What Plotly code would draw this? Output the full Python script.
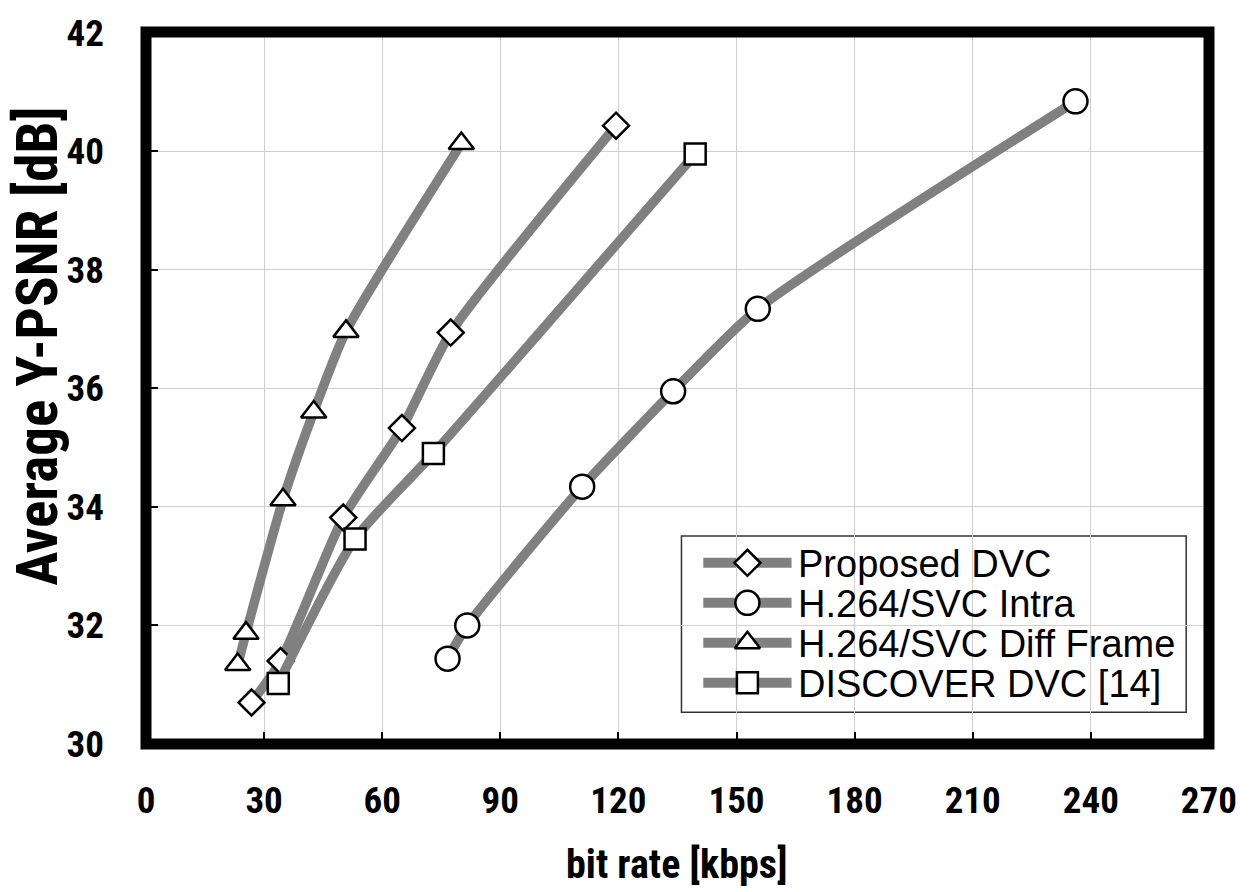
import plotly.graph_objects as go

# ---- data ----
proposed_x = [26.8, 34.2, 50.1, 65.0, 77.4, 119.4]
proposed_y = [30.70, 31.40, 33.82, 35.33, 36.94, 40.43]

intra_x = [76.6, 81.6, 110.8, 133.9, 155.4, 236.1]
intra_y = [31.44, 32.00, 34.34, 35.95, 37.34, 40.84]

diff_x = [23.3, 25.4, 34.8, 42.6, 50.8, 80.1]
diff_y = [31.34, 31.87, 34.12, 35.60, 36.96, 40.13]

discover_x = [33.6, 53.1, 73.0, 139.5]
discover_y = [31.02, 33.46, 34.90, 39.95]

series_names = ["Proposed DVC", "H.264/SVC Intra", "H.264/SVC Diff Frame", "DISCOVER DVC [14]"]
series_symbols = ["diamond", "circle", "triangle-up", "square"]
series_sizes = [20, 24, 22, 21]

x_ticks = [0, 30, 60, 90, 120, 150, 180, 210, 240, 270]
y_ticks = [30, 32, 34, 36, 38, 40, 42]

# ---- style / layout ----
W, H = 1249, 892
L, R, T, B = 146, 1218, 25, 744          # plot area in pixels
LINE_GRAY = "#808080"
COND = "Roboto Condensed, Open Sans Condensed, Liberation Sans Narrow, Arial Narrow, sans-serif"
REG = "Liberation Sans, Arial, sans-serif"

def px2paper_x(px):
    return (px - L) / (R - L)

def px2paper_y(py):
    return (B - py) / (B - T)

fig = go.Figure()

data = [(proposed_x, proposed_y), (intra_x, intra_y), (diff_x, diff_y), (discover_x, discover_y)]
for (xs, ys), name, sym, sz in zip(data, series_names, series_symbols, series_sizes):
    fig.add_trace(go.Scatter(
        x=xs, y=ys, name=name, mode="lines+markers",
        line=dict(color=LINE_GRAY, width=9.5, shape="spline", smoothing=0.6),
        marker=dict(symbol=sym, size=sz, color="white", line=dict(color="black", width=2.5)),
        showlegend=False, cliponaxis=False,
    ))

# ---- manual legend (box, line samples, markers, text) ----
leg_left, leg_right, leg_top, leg_bot = 686, 1195, 534, 712
row0, row_step = 561, 40.4
samp_l, samp_r, mark_x, text_x = 708, 797, 752.5, 802

shapes = [
    dict(type="rect", xref="paper", yref="paper",
         x0=px2paper_x(leg_left), x1=px2paper_x(leg_right),
         y0=px2paper_y(leg_bot), y1=px2paper_y(leg_top),
         line=dict(color="#333333", width=1.5), fillcolor="white", layer="between"),
]
annotations = []
leg_mx, leg_my = [], []
for i, name in enumerate(series_names):
    py = row0 + i * row_step
    shapes.append(dict(type="line", xref="paper", yref="paper",
                       x0=px2paper_x(samp_l), x1=px2paper_x(samp_r),
                       y0=px2paper_y(py), y1=px2paper_y(py),
                       line=dict(color=LINE_GRAY, width=10), layer="between"))
    annotations.append(dict(text=name, xref="paper", yref="paper",
                            x=px2paper_x(text_x), y=px2paper_y(py + 1),
                            xanchor="left", yanchor="middle", showarrow=False,
                            font=dict(family=REG, size=38, color="black")))
    leg_mx.append(px2paper_x(mark_x))
    leg_my.append(px2paper_y(py))

for mx, my, sym, sz in zip(leg_mx, leg_my, series_symbols, series_sizes):
    fig.add_trace(go.Scatter(
        x=[mx], y=[my], xaxis="x2", yaxis="y2", mode="markers",
        marker=dict(symbol=sym, size=sz, color="white", line=dict(color="black", width=2.5)),
        showlegend=False, hoverinfo="skip", cliponaxis=False,
    ))

# outer thick frame
shapes.append(dict(type="rect", xref="paper", yref="paper", x0=0, x1=1, y0=0, y1=1,
                   line=dict(color="black", width=11), layer="above"))

# axis titles
annotations.append(dict(text="Average Y-PSNR [dB]", xref="paper", yref="paper",
                        x=px2paper_x(37), y=px2paper_y(342), textangle=-90,
                        xanchor="center", yanchor="middle", showarrow=False,
                        font=dict(family=COND, size=57, color="black", weight="bold")))
annotations.append(dict(text="bit rate [kbps]", xref="paper", yref="paper",
                        x=px2paper_x(681), y=px2paper_y(866),
                        xanchor="center", yanchor="middle", showarrow=False,
                        font=dict(family=COND, size=40, color="black", weight="bold")))

tick_font = dict(family=COND, size=37, color="black", weight="bold")

fig.update_layout(
    width=W, height=H,
    margin=dict(l=L, r=W - R, t=T, b=H - B, pad=0),
    paper_bgcolor="white", plot_bgcolor="white",
    xaxis=dict(range=[0, 270.02], tickvals=x_ticks, ticktext=[str(v) for v in x_ticks],
               showgrid=True, gridcolor="#cfcfcf", gridwidth=1.3, zeroline=False,
               ticks="inside", ticklen=12, tickwidth=1.5, tickcolor="black",
               tickfont=tick_font, ticklabelstandoff=31, showline=False),
    yaxis=dict(range=[30, 42.01], tickvals=y_ticks, ticktext=[str(v) for v in y_ticks],
               showgrid=True, gridcolor="#cfcfcf", gridwidth=1.3, zeroline=False,
               ticks="inside", ticklen=12, tickwidth=1.5, tickcolor="black",
               tickfont=tick_font, ticklabelstandoff=41, showline=False),
    xaxis2=dict(range=[0, 1], overlaying="x", visible=False, fixedrange=True),
    yaxis2=dict(range=[0, 1], overlaying="y", visible=False, fixedrange=True),
    shapes=shapes, annotations=annotations,
)

fig.write_html("out.html", config={"displayModeBar": False},
               post_script="document.body.style.margin='0px';document.body.style.overflow='hidden';")
